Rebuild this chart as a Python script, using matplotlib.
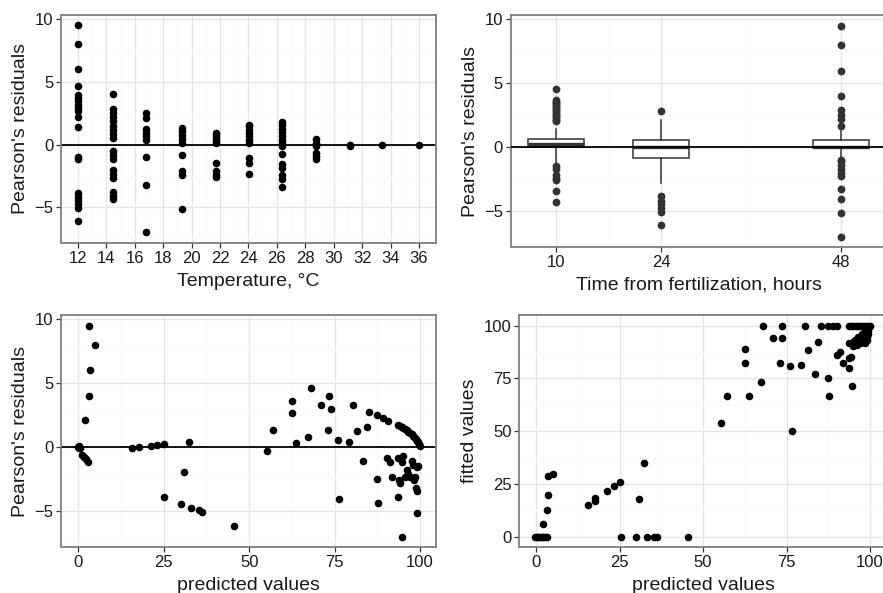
import matplotlib
matplotlib.use("Agg")
import matplotlib.pyplot as plt
import numpy as np
from matplotlib.ticker import FixedLocator

plt.rcParams['font.family'] = ['Liberation Sans', 'DejaVu Sans']

# ---------------- Panel 1: residuals by temperature ----------------
temperatures = [12.0, 14.46, 16.81, 19.35, 21.69, 24.04, 26.39, 28.78, 31.13, 33.41, 36.0]
resid_by_temp = [
    [9.5, 8.01, 6.02, 4.64, 3.98, 3.71, 3.45, 3.18, 2.92, 2.65, 2.17, 1.4, -1.01, -1.14,
     -3.85, -4.16, -4.46, -4.72, -5.04, -6.1],
    [4.06, 2.84, 2.52, 2.2, 1.86, 1.51, 1.19, 0.85, 0.53, -0.53, -0.85, -1.14, -2.04, -2.31,
     -2.65, -3.79, -4.11, -4.38],
    [2.52, 2.12, 1.25, 0.93, 0.66, 0.4, -1.01, -3.24, -6.98],
    [1.33, 1.06, 0.8, 0.45, 0.13, -0.82, -2.12, -2.39, -5.12],
    [0.93, 0.8, 0.55, 0.27, 0.13, -1.46, -2.12, -2.39, -2.57],
    [1.59, 1.46, 1.2, 0.93, 0.66, 0.4, 0.13, -1.06, -1.46, -2.31],
    [1.78, 1.52, 1.25, 0.99, 0.66, 0.4, 0.13, -0.13, -0.72, -1.59, -1.85, -2.39, -2.78, -3.4],
    [0.45, 0.15, -0.1, -0.66, -0.93, -1.19],
    [-0.1, 0.0],
    [0.0],
    [0.0],
]

# ---------------- Panel 2: boxplots by time ----------------
box_times = [10, 24, 48]
box_q1 = [-0.02, -0.86, -0.08]
box_med = [0.2, 0.0, 0.03]
box_q3 = [0.65, 0.52, 0.52]
box_whislo = [-1.25, -2.8, -0.75]
box_whishi = [1.43, 2.1, 1.25]
box_fliers = [
    [4.57, 3.69, 3.55, 3.43, 3.3, 3.17, 3.05, 2.91, 2.78, 2.65, 2.52, 2.39, 2.26, 2.13, 2.0,
     -1.51, -1.75, -2.16, -2.42, -2.6, -3.46, -4.32],
    [2.78, -3.85, -4.24, -4.5, -4.76, -5.07, -6.14],
    [9.49, 7.98, 5.98, 4.0, 2.86, 2.52, 2.18, 1.61, -1.0, -1.12, -1.38, -1.72, -2.03,
     -2.29, -3.28, -4.06, -5.15, -7.02],
]

# ---------------- Panel 3: predicted vs residuals ----------------
pred3 = [0.0, 0.2, 0.4, 0.1, 1.0, 1.6, 2.3, 2.9, 1.95, 3.2, 5.0, 3.4, 3.0,
         15.6, 17.6, 21.2, 23.1, 25.1, 32.5, 25.2, 30.8, 30.0, 33.0, 35.2, 36.3, 45.5,
         55.3, 57.1, 62.6, 62.6, 63.8, 67.3, 68.1, 70.9, 73.0, 73.5, 73.9, 76.1, 76.4,
         79.3, 80.3, 81.5, 83.4, 84.4, 85.2, 87.3, 87.6, 87.5, 89.1, 90.7, 90.4, 91.2,
         91.7, 93.7,
         93.7, 94.2, 94.6, 95.1, 95.6, 96.1, 96.6, 97.1, 97.6, 98.0, 98.3, 98.7, 99.0,
         99.4, 99.7, 100.0,
         93.7, 95.1, 93.9, 94.1, 94.6, 94.6, 97.6, 98.0, 99.2, 96.1, 96.6, 95.6, 97.1,
         98.5, 98.3, 98.8, 99.2, 99.2, 99.5]
resid3 = [0.0, 0.05, -0.05, -0.1, -0.65, -0.8, -0.95, -1.15, 2.1, 9.5, 8.0, 6.0, 4.0,
          -0.08, 0.0, 0.1, 0.15, 0.2, 0.4, -3.95, -1.95, -4.45, -4.75, -4.95, -5.1, -6.2,
          -0.35, 1.3, 3.6, 2.65, 0.35, 0.81, 4.58, 3.28, 1.33, 4.0, 2.94, 0.55, -4.04,
          0.42, 3.28, 1.25, -1.07, 1.59, 2.76, -2.47, -4.35, 2.5, 2.29, 2.06, -0.89, -1.15,
          -2.37, -3.88,
          1.72, 1.65, 1.59, 1.5, 1.41, 1.3, 1.2, 1.1, 0.99, 0.88, 0.76, 0.62, 0.49,
          0.36, 0.23, 0.1,
          -0.89, -0.7, -2.58, -2.84, -1.15, -7.05, -1.07, -1.41, -1.59, -1.8, -2.11, -2.32,
          -2.32, -2.32, -2.58, -3.23, -3.44, -5.18, -1.5]

# ---------------- Panel 4: predicted vs fitted ----------------
pred4 = [-0.3, 0.3, 0.7, 1.2, 1.7, 2.2, 2.7, 3.2, 2.0, 3.2, 3.5, 3.5, 5.2,
         15.7, 17.6, 17.6, 21.3, 23.4, 25.1, 25.4, 29.9, 30.9, 32.4, 33.1, 35.3, 36.3,
         45.4, 55.4, 57.1, 62.6, 62.6, 63.9, 67.3, 67.9, 70.9, 73.1, 73.6, 73.6, 76.0,
         76.5, 79.2, 80.5, 81.5, 83.4, 84.5, 85.2, 87.3, 87.6, 87.5, 88.8, 90.2, 90.0,
         91.0, 91.8, 93.7, 93.8, 94.2, 93.8, 94.8, 94.6,
         93.6, 94.3, 95.0, 95.7, 96.4, 97.1, 97.8, 98.5, 99.2, 100.0,
         95.5, 96.5, 97.5, 98.5, 99.2, 99.8, 95.0, 96.0, 97.0, 98.0, 99.0, 99.0, 98.5,
         99.5, 96.0, 97.5, 99.5]
fitted4 = [0, 0, 0, 0, 0, 0, 0, 0, 6.2, 12.5, 19.9, 28.6, 29.8,
           15.0, 18.3, 16.9, 21.8, 23.8, 25.9, 0, 0, 18.1, 34.9, 0, 0, 0,
           0, 53.8, 66.6, 88.8, 82.2, 66.7, 73.5, 100, 94.0, 82.2, 100, 94.0, 80.9,
           50.0, 81.4, 100, 88.2, 77.1, 92.4, 100, 75.1, 66.7, 100, 100, 100, 86.1,
           87.7, 82.5, 80.1, 84.6, 85.3, 91.7, 92.4, 71.5,
           100, 100, 100, 100, 100, 100, 100, 100, 100, 100,
           93.2, 94.8, 96.1, 97.2, 98.3, 99.2, 90.1, 90.9, 91.7, 92.4, 93.2, 94.8, 91.7,
           96.1, 93.5, 94.0, 97.5]

# ---------------- styling helpers ----------------
W, H = 883, 593
fig = plt.figure(figsize=(W / 100, H / 100), dpi=100)


def mk_axes(l, r, t, b):
    return fig.add_axes([l / W, (H - b) / H, (r - l) / W, (b - t) / H])


GRID_MAJ = '#E5E5E5'
GRID_MIN = '#FAFAFA'
BORDER = '#7F7F7F'
TXT = '#1a1a1a'
TICK_FS = 12
TITLE_FS = 14
XPAD = 5


def style(ax, xmaj, xmin, ymaj, ymin, hide_right=False):
    ax.set_facecolor('white')
    ax.xaxis.set_major_locator(FixedLocator(xmaj))
    ax.xaxis.set_minor_locator(FixedLocator(xmin))
    ax.yaxis.set_major_locator(FixedLocator(ymaj))
    ax.yaxis.set_minor_locator(FixedLocator(ymin))
    ax.grid(True, which='major', color=GRID_MAJ, lw=1.0, zorder=0)
    ax.grid(True, which='minor', color=GRID_MIN, lw=0.8, zorder=0)
    ax.set_axisbelow(True)
    for s in ax.spines.values():
        s.set_color(BORDER)
        s.set_linewidth(1.3)
    if hide_right:
        ax.spines['right'].set_visible(False)
    ax.tick_params(which='major', direction='out', length=3.5, width=0.9,
                   color='#333333', labelsize=TICK_FS, labelcolor=TXT, pad=2)
    ax.tick_params(which='minor', length=0)


PT_SIZE = 30
ylim_res = (-7.85, 10.33)

# Panel 1
ax1 = mk_axes(61, 436, 15, 243)
xs1 = []
ys1 = []
for t, vals in zip(temperatures, resid_by_temp):
    xs1 += [t] * len(vals)
    ys1 += vals
ax1.scatter(xs1, ys1, s=PT_SIZE, color='black', linewidths=0, zorder=3)
ax1.axhline(0, color='black', lw=1.3, zorder=2)
ax1.set_xlim(10.8, 37.2)
ax1.set_ylim(*ylim_res)
style(ax1, np.arange(12, 37, 2), np.arange(11, 38, 2), [-5, 0, 5, 10], [-7.5, -2.5, 2.5, 7.5])
ax1.set_xlabel('Temperature, °C', fontsize=TITLE_FS, color=TXT, labelpad=XPAD)
ax1.set_ylabel("Pearson's residuals", fontsize=TITLE_FS, color=TXT, labelpad=4)

# Panel 2
ax2 = mk_axes(510.7, 886.5, 15, 247.3)
stats = []
for i in range(len(box_times)):
    stats.append(dict(med=box_med[i], q1=box_q1[i], q3=box_q3[i],
                      whislo=box_whislo[i], whishi=box_whishi[i], fliers=box_fliers[i]))
ax2.bxp(stats, positions=box_times, widths=7.5, patch_artist=True,
        boxprops=dict(facecolor='white', edgecolor='#333333', linewidth=1.1),
        medianprops=dict(color='#333333', linewidth=2.4),
        whiskerprops=dict(color='#333333', linewidth=1.1),
        capprops=dict(linewidth=0),
        flierprops=dict(marker='o', markerfacecolor='#333333', markeredgecolor='#333333',
                        markersize=5.6, markeredgewidth=0),
        manage_ticks=False, zorder=3)
ax2.axhline(0, color='black', lw=1.3, zorder=4)
ax2.set_xlim(3.94, 54.06)
ax2.set_ylim(*ylim_res)
style(ax2, box_times, [17, 36], [-5, 0, 5, 10], [-7.5, -2.5, 2.5, 7.5], hide_right=True)
ax2.set_xlabel('Time from fertilization, hours', fontsize=TITLE_FS, color=TXT, labelpad=XPAD)
ax2.set_ylabel("Pearson's residuals", fontsize=TITLE_FS, color=TXT, labelpad=4)

# Panel 3
ax3 = mk_axes(61, 436, 315, 547.3)
ax3.scatter(pred3, resid3, s=PT_SIZE, color='black', linewidths=0, zorder=3)
ax3.axhline(0, color='black', lw=1.3, zorder=2)
ax3.set_xlim(-5.1, 104.7)
ax3.set_ylim(*ylim_res)
style(ax3, [0, 25, 50, 75, 100], [12.5, 37.5, 62.5, 87.5], [-5, 0, 5, 10], [-7.5, -2.5, 2.5, 7.5])
ax3.set_xlabel('predicted values', fontsize=TITLE_FS, color=TXT, labelpad=XPAD)
ax3.set_ylabel("Pearson's residuals", fontsize=TITLE_FS, color=TXT, labelpad=4)

# Panel 4
ax4 = mk_axes(519.3, 886.7, 315, 547.3)
ax4.scatter(pred4, fitted4, s=PT_SIZE, color='black', linewidths=0, zorder=3)
ax4.set_xlim(-5.0, 105.0)
ax4.set_ylim(-5.0, 105.0)
style(ax4, [0, 25, 50, 75, 100], [12.5, 37.5, 62.5, 87.5], [0, 25, 50, 75, 100],
      [12.5, 37.5, 62.5, 87.5], hide_right=True)
ax4.set_xlabel('predicted values', fontsize=TITLE_FS, color=TXT, labelpad=XPAD)
ax4.set_ylabel('fitted values', fontsize=TITLE_FS, color=TXT, labelpad=4)

fig.savefig('out.png', dpi=100, facecolor='white')
